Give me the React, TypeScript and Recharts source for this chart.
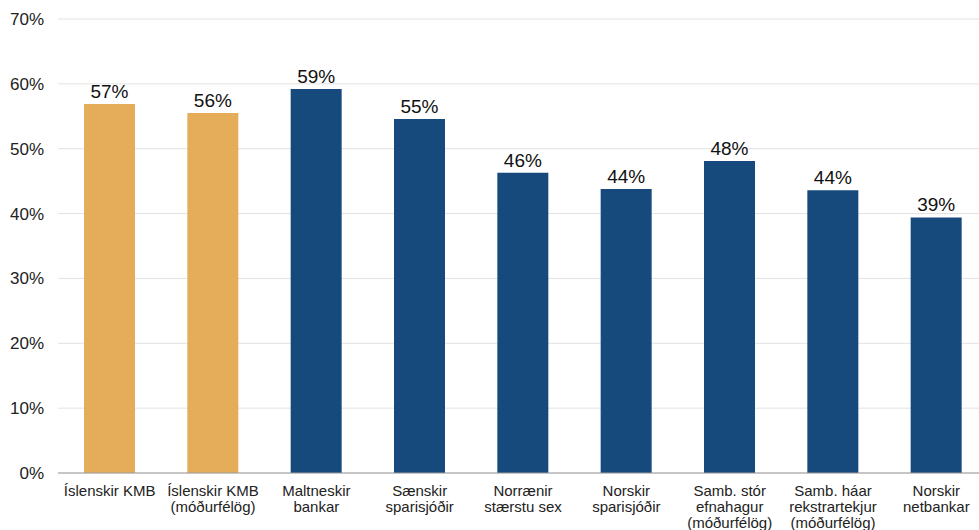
import { BarChart, Bar, XAxis, YAxis, CartesianGrid, Cell, LabelList } from 'recharts';

const categories = [
  'Íslenskir KMB',
  'Íslenskir KMB\n(móðurfélög)',
  'Maltneskir\nbankar',
  'Sænskir\nsparisjóðir',
  'Norrænir\nstærstu sex',
  'Norskir\nsparisjóðir',
  'Samb. stór\nefnahagur\n(móðurfélög)',
  'Samb. háar\nrekstrartekjur\n(móðurfélög)',
  'Norskir\nnetbankar',
];
const values = [56.9, 55.5, 59.2, 54.6, 46.3, 43.8, 48.1, 43.6, 39.4];
const labels = ['57%', '56%', '59%', '55%', '46%', '44%', '48%', '44%', '39%'];
const highlighted = [true, true, false, false, false, false, false, false, false];
const yTicks = [0, 10, 20, 30, 40, 50, 60, 70];

const GOLD = '#e5ad5a';
const NAVY = '#174a7c';
const FONT = '"Liberation Sans", Arial, Helvetica, sans-serif';

const data = categories.map((name, i) => ({ name, value: values[i], label: labels[i] }));

function CategoryTick({ x, y, payload }: any) {
  const lines = String(payload.value).split('\n');
  return (
    <text x={x} y={y} textAnchor="middle" fontSize={15} fill="#222" fontFamily={FONT}>
      {lines.map((line, i) => (
        <tspan key={i} x={x} dy={i === 0 ? 23 : 16}>
          {line}
        </tspan>
      ))}
    </text>
  );
}

export default function App() {
  return (
    <div style={{ position: 'fixed', top: 0, left: 0, width: 979, height: 530, overflow: 'hidden', background: '#fff' }}>
      <BarChart
        width={990}
        height={530}
        data={data}
        margin={{ top: 19, right: 2, left: 0, bottom: 0 }}
        style={{ fontFamily: FONT }}
      >
        <CartesianGrid vertical={false} stroke="#e2e2e2" />
        <YAxis
          width={58}
          domain={[0, 70]}
          ticks={yTicks}
          tickFormatter={(v: number) => `${v}%`}
          axisLine={false}
          tickLine={false}
          tickSize={0}
          tickMargin={14}
          tick={{ fontSize: 17, fill: '#222', fontFamily: FONT }}
        />
        <XAxis
          dataKey="name"
          height={57}
          interval={0}
          tickLine={false}
          tickSize={0}
          tickMargin={0}
          axisLine={{ stroke: '#9a9a9a' }}
          tick={<CategoryTick />}
        />
        <Bar dataKey="value" barSize={51} isAnimationActive={false}>
          {data.map((d, i) => (
            <Cell key={d.name} fill={highlighted[i] ? GOLD : NAVY} />
          ))}
          <LabelList dataKey="label" position="top" offset={6} fontSize={19} fill="#111" fontFamily={FONT} />
        </Bar>
      </BarChart>
    </div>
  );
}
